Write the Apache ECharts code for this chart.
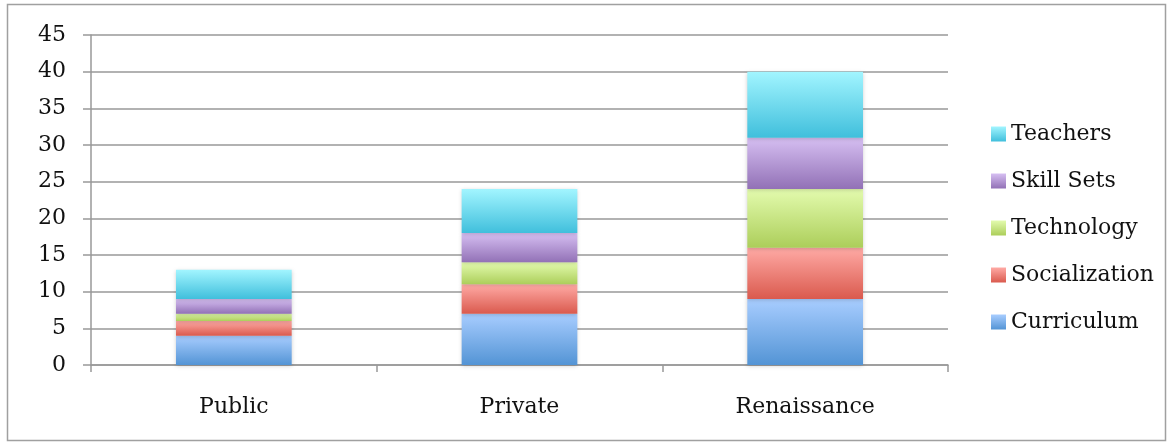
<!DOCTYPE html>
<html><head><meta charset="utf-8">
<script src="https://cdn.jsdelivr.net/npm/echarts@6/dist/echarts.min.js"></script>
<style>html,body{margin:0;padding:0;background:#fff}#c{width:1173px;height:448px}</style>
</head><body><div id="c"></div>
<script>
const categories = ['Public', 'Private', 'Renaissance'];
const curriculum = [4, 7, 9];
const socialization = [2, 4, 7];
const technology = [1, 3, 8];
const skillSets = [2, 4, 7];
const teachers = [4, 6, 9];
const yTicks = [0, 5, 10, 15, 20, 25, 30, 35, 40, 45];

const grad = (t, b) => new echarts.graphic.LinearGradient(0, 0, 0, 1, [{offset: 0, color: t}, {offset: 1, color: b}]);
const FONT = 'DejaVu Serif';
const mk = (name, data, t, b) => ({
  name, type: 'bar', stack: 'a', data, barWidth: '40.5%',
  itemStyle: {color: grad(t, b), shadowColor: 'rgba(0,0,0,0.18)', shadowBlur: 4, shadowOffsetY: 1},
  emphasis: {disabled: true}
});
const series = [
  mk('Curriculum', curriculum, '#a8cdff', '#5394d5'),
  mk('Socialization', socialization, '#ffaaa5', '#da5a4e'),
  mk('Technology', technology, '#e3fbae', '#acce5a'),
  mk('Skill Sets', skillSets, '#d6bff2', '#9271b6'),
  mk('Teachers', teachers, '#a2f5ff', '#40bfdc')
];
const chart = echarts.init(document.getElementById('c'), null, {renderer: 'canvas'});
chart.setOption({
  animation: false,
  textStyle: {fontFamily: FONT},
  graphic: [{type: 'rect', shape: {x: 7.5, y: 4.5, width: 1158, height: 436}, style: {fill: 'none', stroke: '#a0a0a0', lineWidth: 1.5}, z: -1}],
  grid: {left: 91, right: 225, top: 35, bottom: 83},
  legend: {
    orient: 'vertical', top: 118, left: 986,
    data: ['Teachers', 'Skill Sets', 'Technology', 'Socialization', 'Curriculum'],
    itemWidth: 15, itemHeight: 15, itemGap: 25, icon: 'rect',
    textStyle: {fontFamily: FONT, fontSize: 22, color: '#111', padding: [0, 0, 0, 0]}
  },
  xAxis: {
    type: 'category', data: categories,
    axisLine: {lineStyle: {color: '#999', width: 1.5}},
    axisTick: {show: true, length: 7, lineStyle: {color: '#999', width: 1.5}},
    axisLabel: {fontFamily: FONT, fontSize: 22, color: '#111', margin: 31}
  },
  yAxis: {
    type: 'value', min: yTicks[0], max: yTicks[yTicks.length - 1], interval: 5,
    axisLine: {show: true, lineStyle: {color: '#999', width: 1.5}},
    axisTick: {show: true, length: 8, lineStyle: {color: '#999', width: 1.5}},
    splitLine: {lineStyle: {color: '#999', width: 1.5}},
    axisLabel: {fontFamily: FONT, fontSize: 22, color: '#111', margin: 25}
  },
  series
});
</script></body></html>
